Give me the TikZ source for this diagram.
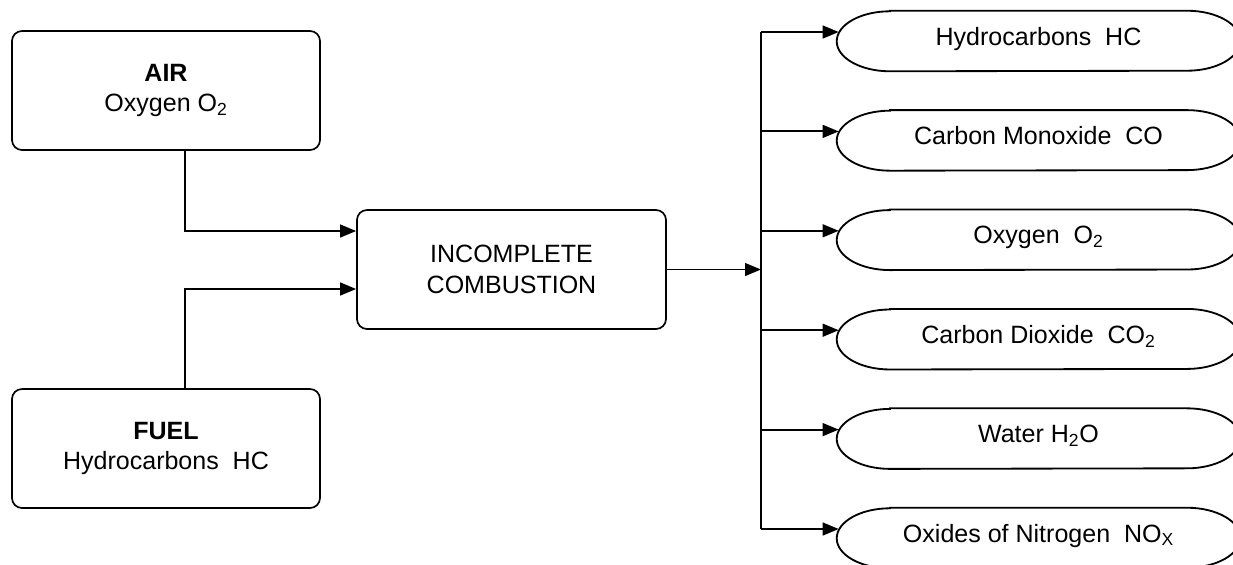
\documentclass[tikz,border=0pt]{standalone}
\usepackage{fontspec}
\setmainfont{Liberation Sans}
\usetikzlibrary{arrows.meta}
\begin{document}
\begin{tikzpicture}[>={Triangle[length=0.4cm,width=0.32cm]},
    link/.style={line width=1.3pt},
    box/.style={draw, line width=1.2pt, rounded corners=0.25cm,
        minimum width=7.7cm, minimum height=2.975cm, align=center,
        font=\fontsize{17.8}{22}\selectfont},
    product/.style={minimum width=10.075cm, minimum height=1.5cm, inner sep=0pt,
        text height=0.45cm, text depth=0.25cm, font=\fontsize{17.8}{22}\selectfont}]
    \useasboundingbox (0,0) rectangle (30.825,-14.1);

    \node[box] (air) at (4.15,-2.2625) {\textbf{AIR}\\Oxygen O\textsubscript{2}};
    \node[box] (fuel) at (4.15,-11.2125) {\textbf{FUEL}\\Hydrocarbons~~HC};
    \node[box, minimum width=7.725cm] (comb) at (12.7875,-6.7375) {INCOMPLETE\\COMBUSTION};

    % inputs into the combustion box
    \coordinate (air-in) at ([yshift=0.9625cm]comb.west);
    \coordinate (fuel-in) at ([yshift=-0.4875cm]comb.west);
    \draw[link,->] ([xshift=0.475cm]air.south) |- (air-in);
    \draw[link,->] ([xshift=0.475cm]fuel.north) |- (fuel-in);

    \coordinate (bus) at (19.025,0);

    % exhaust products
    \foreach \name/\txt [count=\i from 0] in {hc/{Hydrocarbons~~HC},
        co/{Carbon Monoxide~~CO}, ox/{Oxygen~~O\textsubscript{2}},
        cd/{Carbon Dioxide~~CO\textsubscript{2}}, wa/{Water H\textsubscript{2}O},
        no/{Oxides of Nitrogen~~NO\textsubscript{X}}} {
        \node[product] (\name) at (25.9625,{-1.025-2.485*\i}) {\txt};
        \draw[link] ([xshift=1.33cm]\name.north west) -- ([xshift=-1.33cm]\name.north east)
            arc[start angle=90, end angle=-90, x radius=1.33cm, y radius=0.75cm]
            -- ([xshift=1.33cm]\name.south west)
            arc[start angle=-90, end angle=-270, x radius=1.33cm, y radius=0.75cm] -- cycle;
        \coordinate (\name-in) at ([xshift=0.05cm,yshift=0.225cm]\name.west);
        \draw[link,->] (bus |- \name-in) -- (\name-in);
    }

    \draw[link] (bus |- hc-in) -- (bus |- no-in);
    \draw[link,->] (comb.east) -- (bus |- comb.east);
\end{tikzpicture}
\end{document}
